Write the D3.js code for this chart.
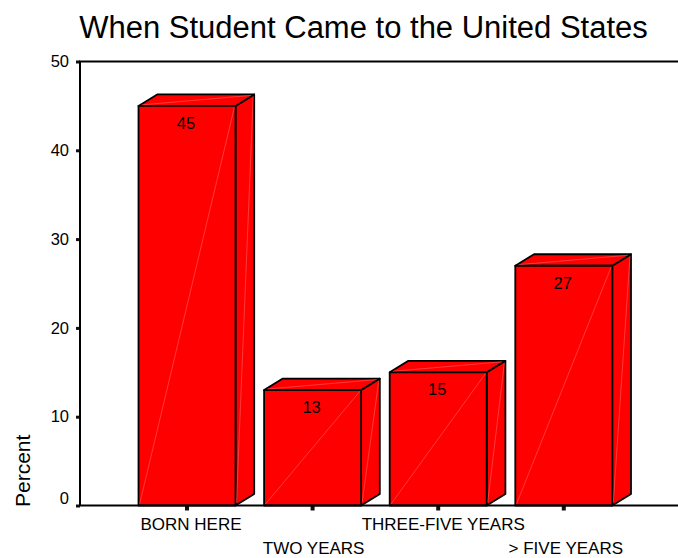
<!DOCTYPE html>
<html><head><meta charset="utf-8">
<script src="https://cdn.jsdelivr.net/npm/d3@7"></script>
<style>html,body{margin:0;padding:0;background:#fff}svg{display:block}text{font-family:"Liberation Sans",Arial,sans-serif;fill:#000}</style>
</head><body><svg id="c" width="678" height="558"></svg>
<script>
const categories = ["BORN HERE","TWO YEARS","THREE-FIVE YEARS","> FIVE YEARS"];
const percents = [45,13,15,27];
const yTicks = [0,10,20,30,40,50];
const title = "When Student Came to the United States";
const yLabel = "Percent";

const svg = d3.select("#c");
const y = d3.scaleLinear().domain([0,50]).range([505.5,61.5]);
const x = d3.scaleBand().domain(categories).range([124.2,626.6]).paddingInner(0.2277).paddingOuter(0.1139);
const dx = 18.7, dy = 11.5;
const fs = 16.5;

svg.append("text").attr("x",363.5).attr("y",38).attr("text-anchor","middle").attr("font-size",31).text(title);
svg.append("text").attr("transform","translate(29.5,507) rotate(-90)").attr("font-size",21).text(yLabel);

const yAxis = d3.axisLeft(y).tickValues(yTicks).tickSize(4).tickPadding(7);
const gy = svg.append("g").attr("transform","translate(80,0)").call(yAxis);
gy.select(".domain").remove();
gy.selectAll("line").attr("stroke","#111").attr("stroke-width",3);
gy.selectAll("text").attr("font-size",fs).attr("font-family","Liberation Sans").attr("dy","0.32em")
  .attr("y",d=> d===0 ? -7 : 0);

const xAxis = d3.axisBottom(x).tickSize(5);
const gx = svg.append("g").attr("transform","translate(0,505.5)").call(xAxis);
gx.select(".domain").remove();
gx.selectAll("line").attr("stroke","#111").attr("stroke-width",4);
const labelShift = [4,1,5,2];
gx.selectAll("text").attr("font-size",17).attr("font-family","Liberation Sans").attr("text-anchor","middle").attr("dy",null)
  .attr("x",(d,i)=>labelShift[i]).attr("y",(d,i)=> i%2 ? 48.5 : 24);

const bars = svg.append("g").selectAll("g").data(categories.map((c,i)=>({c,v:percents[i]}))).join("g");
const L = d=>x(d.c), R = d=>x(d.c)+x.bandwidth(), T = d=>y(d.v), B = ()=>y(0);
const pts = a=>a.map(p=>p.join(",")).join(" ");
const poly = (f)=>bars.append("polygon").attr("points",d=>pts(f(d))).attr("fill","#ff0000").attr("stroke","#000").attr("stroke-width",1.8).attr("stroke-linejoin","round");
poly(d=>[[R(d),B()],[R(d)+dx,B()-dy],[R(d)+dx,T(d)-dy],[R(d),T(d)]]);
poly(d=>[[L(d),T(d)],[L(d)+dx,T(d)-dy],[R(d)+dx,T(d)-dy],[R(d),T(d)]]);
poly(d=>[[L(d),B()],[L(d),T(d)],[R(d),T(d)],[R(d),B()]]);
const hi = (f)=>bars.append("line").attr("x1",d=>f(d)[0]).attr("y1",d=>f(d)[1]).attr("x2",d=>f(d)[2]).attr("y2",d=>f(d)[3]).attr("stroke","#ff9090").attr("stroke-width",0.4);
hi(d=>[L(d)+1,B()-1,R(d)-1,T(d)+1]);
hi(d=>[R(d)+1,B()-3,R(d)+dx-1,T(d)-dy+2]);
hi(d=>[L(d)+3,T(d)-1,R(d)+dx-3,T(d)-dy+1]);

bars.append("text").attr("x",d=>x(d.c)+x.bandwidth()/2-1).attr("y",d=>T(d)+23).attr("text-anchor","middle").attr("font-size",fs).attr("font-family","Liberation Sans").text(d=>d.v);

const frame = svg.append("g").attr("stroke","#000").attr("stroke-width",2);
frame.append("line").attr("x1",80).attr("x2",80).attr("y1",y(50)).attr("y2",y(0));
frame.append("line").attr("x1",79).attr("x2",678).attr("y1",y(50)).attr("y2",y(50));
frame.append("line").attr("x1",79).attr("x2",678).attr("y1",y(0)).attr("y2",y(0));
</script></body></html>
